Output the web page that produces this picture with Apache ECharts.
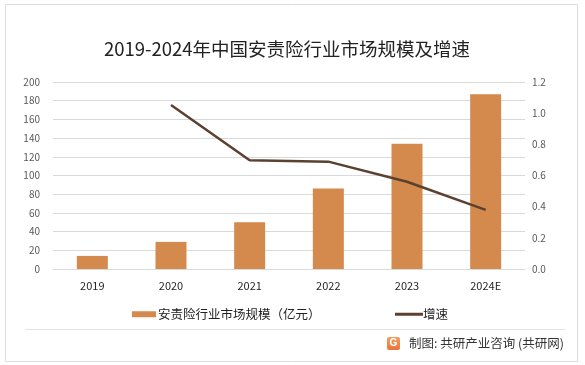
<!DOCTYPE html>
<html><head><meta charset="utf-8">
<script src="https://cdn.jsdelivr.net/npm/echarts@6/dist/echarts.min.js"></script>
<style>html,body{margin:0;padding:0;background:#fff}#c{width:585px;height:365px}</style>
</head><body><div id="c"></div>
<script>
const categories = ['2019','2020','2021','2022','2023','2024E'];
const marketSize = [14, 29, 50, 86, 134, 187];
const growthRate = [null, 1.053, 0.698, 0.689, 0.56, 0.379];
const leftTicks = {min:0, max:200, interval:20};
const rightTicks = {min:0, max:1.2, interval:0.2};
const titleText = '2019-2024年中国安责险行业市场规模及增速';
const barName = '安责险行业市场规模（亿元）';
const lineName = '增速';
const footerText = '制图: 共研产业咨询 (共研网)';

const FONT = '"Microsoft YaHei","Noto Sans CJK SC","Noto Sans",sans-serif';
const chart = echarts.init(document.getElementById('c'), null, {renderer:'canvas'});
chart.setOption({
  animation:false,
  backgroundColor:'#fff',
  textStyle:{fontFamily:FONT},
  title:{text:titleText, left:99, top:35, textStyle:{fontSize:18.5, fontWeight:'normal', color:'#222', fontFamily:FONT}},
  grid:{left:53, right:60, top:82, bottom:96},
  legend:[
    {data:[barName], left:127, top:303, itemWidth:24, itemHeight:6, itemGap:5, icon:'rect',
     textStyle:{fontSize:12.5, color:'#222', padding:[0,0,0,-3]}},
    {data:[lineName], left:390, top:303, itemWidth:28, itemHeight:3, icon:'rect',
     textStyle:{fontSize:12.5, color:'#222', padding:[0,0,0,-5]}}
  ],
  xAxis:{type:'category', data:categories,
    axisLine:{show:true, lineStyle:{color:'#d9d9d9'}}, axisTick:{show:false},
    axisLabel:{color:'#262626', fontSize:11, margin:11}},
  yAxis:[
    {type:'value', min:leftTicks.min, max:leftTicks.max, interval:leftTicks.interval,
     axisLine:{show:false}, axisTick:{show:false},
     axisLabel:{color:'#595959', fontSize:10, margin:13},
     splitLine:{lineStyle:{color:'#d9d9d9'}}},
    {type:'value', min:rightTicks.min, max:rightTicks.max, interval:rightTicks.interval,
     axisLine:{show:false}, axisTick:{show:false},
     axisLabel:{color:'#595959', fontSize:10, margin:7, formatter:v=>v.toFixed(1)},
     splitLine:{show:false}}
  ],
  series:[
    {name:barName, type:'bar', data:marketSize, barWidth:31, itemStyle:{color:'#D48A4C'}, yAxisIndex:0},
    {name:lineName, type:'line', data:growthRate, yAxisIndex:1, symbol:'none', showSymbol:false,
     lineStyle:{color:'#5B4130', width:2.5}, itemStyle:{color:'#5B4130'}}
  ],
  graphic:[
    {type:'rect', shape:{x:5.5, y:4.5, width:572, height:357}, style:{fill:'none', stroke:'#dcdcdc', lineWidth:1}, silent:true, z:-1},
    {type:'line', shape:{x1:25, y1:329.5, x2:565, y2:329.5}, style:{stroke:'#e3e3e3', lineWidth:1}},
    {type:'rect', shape:{x:387, y:337, width:13, height:13, r:2}, style:{fill:new echarts.graphic.LinearGradient(0,0,0,1,[{offset:0,color:'#f4a062'},{offset:1,color:'#e8743a'}])}},
    {type:'text', style:{text:'G', x:393.5, y:343.5, align:'center', verticalAlign:'middle', fill:'#fff', font:'bold 10px sans-serif'}},
    {type:'text', style:{text:footerText, x:409, y:343.5, verticalAlign:'middle', fill:'#333', font:'12.5px '+FONT}}
  ]
});
</script></body></html>
